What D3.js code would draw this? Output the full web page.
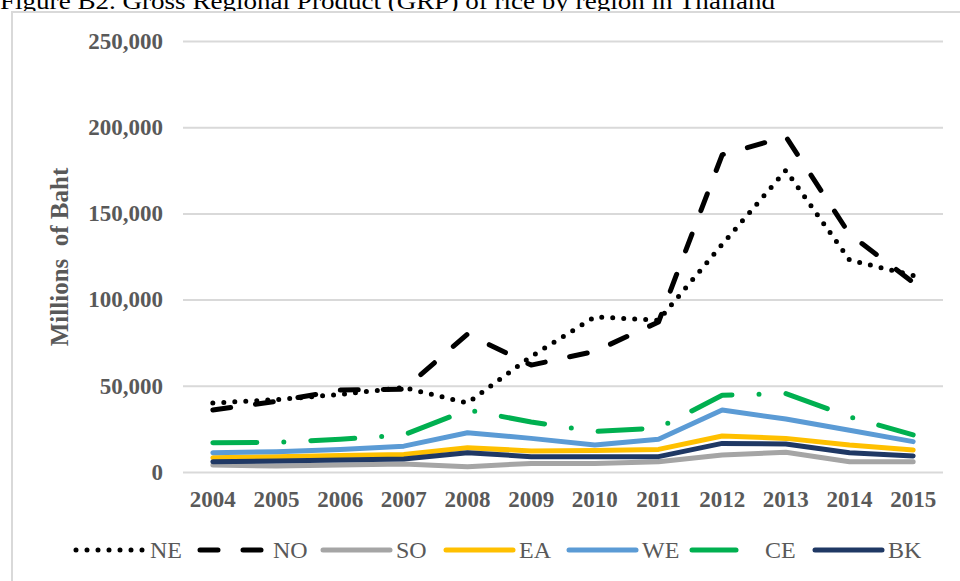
<!DOCTYPE html>
<html>
<head>
<meta charset="utf-8">
<script src="https://cdn.jsdelivr.net/npm/d3@7"></script>
<style>
  body { margin: 0; background: #fff; }
  svg { display: block; }
</style>
</head>
<body>
<script>
  var years = ['2004','2005','2006','2007','2008','2009','2010','2011','2012','2013','2014','2015'];
  var yTicks = [0, 50000, 100000, 150000, 200000, 250000];
  var regions = ['NE','NO','SO','EA','WE','CE','BK'];

  // millions of baht
  var NE = [40000, 42000, 45000, 49000, 40000, 67000, 90000, 88000, 132000, 175000, 123000, 114000];
  var NO = [36000, 41000, 47500, 48000, 80000, 62000, 70000, 87000, 184000, 194500, 138000, 110000];
  var SO = [4000, 3500, 4000, 4600, 3100, 5000, 5000, 6000, 9900, 11400, 6000, 6000];
  var EA = [8300, 8900, 9500, 10200, 14100, 12200, 12400, 13100, 20900, 19500, 15700, 12800];
  var WE = [11200, 11800, 13000, 15000, 22800, 19500, 15700, 19000, 36000, 30700, 24200, 17600];
  var CE = [17000, 17200, 19000, 21500, 36000, 29000, 23500, 25500, 44500, 45500, 32000, 21500];
  var BK = [6000, 6400, 7000, 7500, 11200, 8900, 8900, 8900, 16600, 16200, 11200, 9300];

  var seriesData = { NE: NE, NO: NO, SO: SO, EA: EA, WE: WE, CE: CE, BK: BK };
  var colors = { NE: '#000000', NO: '#000000', SO: '#a5a5a5', EA: '#ffc000', WE: '#5b9bd5', CE: '#00b050', BK: '#1f3864' };
  var dashes = { NE: '0,11', NO: '18,25', SO: null, EA: null, WE: null, CE: '44,27,0,27', BK: null };

  var W = 960, H = 581;
  var plotLeft = 181, plotRight = 945, plotTop = 41, plotBottom = 472;
  var serif = '"Liberation Serif", "Times New Roman", serif';

  var svg = d3.select('body').append('svg')
    .attr('width', W)
    .attr('height', H);

  svg.append('text')
    .attr('x', 0)
    .attr('y', 9)
    .attr('font-family', serif)
    .attr('font-size', 24)
    .attr('fill', '#000')
    .attr('textLength', 775)
    .attr('lengthAdjust', 'spacingAndGlyphs')
    .text('Figure B2. Gross Regional Product (GRP) of rice by region in Thailand');

  // chart frame
  svg.append('rect')
    .attr('x', 12)
    .attr('y', 12)
    .attr('width', 980)
    .attr('height', 600)
    .attr('fill', '#fff')
    .attr('stroke', '#d9d9d9')
    .attr('stroke-width', 2);

  var x = d3.scaleBand().domain(years).range([plotLeft, plotRight]);
  var y = d3.scaleLinear().domain([0, 250000]).range([plotBottom, plotTop]);
  var cx = function(d) { return x(d) + x.bandwidth() / 2; };

  var yAxis = d3.axisLeft(y)
    .tickValues(yTicks)
    .tickFormat(d3.format(','))
    .tickSize(-(943 - 183))
    .tickPadding(20);

  var gy = svg.append('g')
    .attr('transform', 'translate(183,0)')
    .call(yAxis);
  gy.select('.domain').remove();
  gy.selectAll('.tick line').attr('stroke', '#d9d9d9').attr('stroke-width', 2);
  gy.selectAll('.tick text')
    .attr('font-family', serif)
    .attr('font-size', 23)
    .attr('font-weight', 'bold')
    .attr('fill', '#595959');

  var xAxis = d3.axisBottom(x).tickSize(0).tickPadding(19);
  var gx = svg.append('g')
    .attr('transform', 'translate(0,' + plotBottom + ')')
    .call(xAxis);
  gx.select('.domain').remove();
  gx.selectAll('.tick text')
    .attr('font-family', serif)
    .attr('font-size', 23)
    .attr('font-weight', 'bold')
    .attr('fill', '#595959');

  svg.append('text')
    .attr('transform', 'translate(68,257) rotate(-90)')
    .attr('text-anchor', 'middle')
    .attr('font-family', serif)
    .attr('font-size', 25)
    .attr('font-weight', 'bold')
    .attr('fill', '#595959')
    .style('white-space', 'pre')
    .text('Millions  of Baht');

  var line = d3.line()
    .x(function(d, i) { return cx(years[i]); })
    .y(function(d) { return y(d); });

  regions.forEach(function(r) {
    svg.append('path')
      .datum(seriesData[r])
      .attr('d', line)
      .attr('fill', 'none')
      .attr('stroke', colors[r])
      .attr('stroke-width', 5)
      .attr('stroke-linecap', 'round')
      .attr('stroke-linejoin', 'round')
      .attr('stroke-dasharray', dashes[r]);
  });

  // legend
  var lx = d3.scaleBand().domain(regions).range([74, 74 + 123 * regions.length]);
  var items = svg.selectAll('g.legend')
    .data(regions)
    .enter()
    .append('g')
    .attr('class', 'legend')
    .attr('transform', function(d) { return 'translate(' + lx(d) + ',550)'; });

  items.append('line')
    .attr('x1', function(d) { return d == 'NE' ? 2 : 3; })
    .attr('x2', 70)
    .attr('y1', 0)
    .attr('y2', 0)
    .attr('stroke', function(d) { return colors[d]; })
    .attr('stroke-width', 5)
    .attr('stroke-linecap', 'round')
    .attr('stroke-dasharray', function(d) { return dashes[d]; });

  items.append('text')
    .attr('x', 76)
    .attr('y', 8)
    .attr('font-family', serif)
    .attr('font-size', 24)
    .attr('fill', '#595959')
    .text(function(d) { return d; });
</script>
</body>
</html>
